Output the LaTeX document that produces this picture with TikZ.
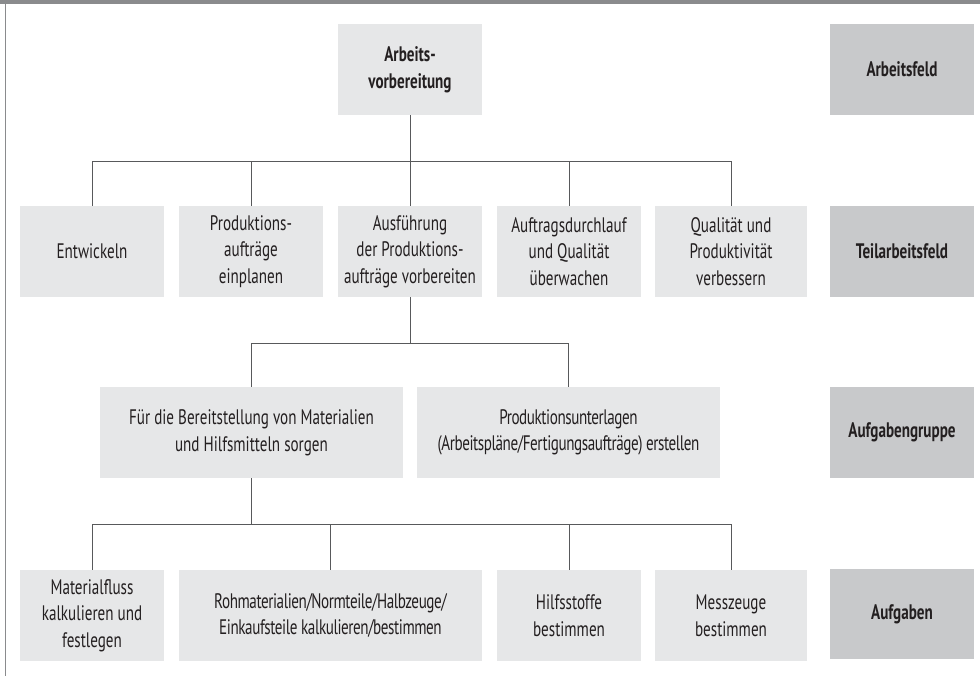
\documentclass[tikz,border=0pt]{standalone}
\usepackage{fontspec}
\setmainfont{PT Sans}[FakeStretch=0.72]
\usepackage{xcolor}
\usetikzlibrary{positioning}

\definecolor{boxlight}{HTML}{E6E7E8}
\definecolor{boxdark}{HTML}{C8C9CB}
\definecolor{linegray}{HTML}{58595B}
\definecolor{framegray}{HTML}{8A8B8D}
\definecolor{txt}{HTML}{231F20}

\begin{document}
\begin{tikzpicture}[
        x=1pt, y=-1pt,
        box/.style={fill=boxlight, rectangle, align=center, inner sep=0pt, minimum width=144pt, minimum height=91pt, text=txt, font=\fontsize{21}{26.7}\selectfont},
        widebox/.style={box, minimum width=303pt},
        tight/.style={font=\fontsize{21}{26.7}\selectfont\addfontfeatures{LetterSpace=-2}},
        levelbox/.style={box, fill=boxdark, font=\fontsize{21}{26.7}\selectfont\bfseries},
        conn/.style={draw=linegray, line width=1pt}
    ]

    \useasboundingbox (0,0) rectangle (980,676);

    % Frame
    \fill[framegray] (0,0) rectangle (980,4);
    \draw[framegray, line width=1.5pt] (5.5,4) -- (5.5,676);

    % Arbeitsfeld
    \node[box, font=\fontsize{21}{26.7}\selectfont\bfseries] (avor) at (410,69.5) {Arbeits-\\vorbereitung};
    \node[levelbox] (lvlfeld) at (902,69.5) {Arbeitsfeld};

    % Teilarbeitsfelder
    \node[box] (entw) at (92,251.5) {Entwickeln};
    \node[box] (einpl) at (251,251.5) {Produktions-\\aufträge\\einplanen};
    \node[box] (ausf) at (410,251.5) {Ausführung\\der Produktions-\\aufträge vorbereiten};
    \node[box] (ueberw) at (569,251.5) {Auftragsdurchlauf\\und Qualität\\überwachen};
    \node[box, minimum width=152pt] (verb) at (731,251.5) {Qualität und\\Produktivität\\verbessern};
    \node[levelbox] (lvlteil) at (902,251.5) {Teilarbeitsfeld};

    % Aufgabengruppen
    \node[widebox] (bereit) at (251.5,432.5) {Für die Bereitstellung von Materialien\\und Hilfsmitteln sorgen};
    \node[widebox, tight] (unterl) at (568.5,432.5) {Produktionsunterlagen\\(Arbeitspläne/Fertigungsaufträge) erstellen};
    \node[levelbox] (lvlgrp) at (902,432.5) {Aufgabengruppe};

    % Aufgaben
    \node[box] (matfl) at (92,615.5) {Materialfluss\\kalkulieren und\\festlegen};
    \node[widebox, tight] (rohmat) at (330.5,615.5) {Rohmaterialien/Normteile/Halbzeuge/\\Einkaufsteile kalkulieren/bestimmen};
    \node[box] (hilfs) at (569,615.5) {Hilfsstoffe\\bestimmen};
    \node[box, minimum width=152pt] (messz) at (731,615.5) {Messzeuge\\bestimmen};
    \node[levelbox, minimum height=90pt] (lvlaufg) at (902,614) {Aufgaben};

    % Connectors
    \draw[conn] (avor.south) -- (ausf.north);
    \foreach \n in {entw, einpl, ueberw, verb}
        \draw[conn] (avor.south) -- ++(0,46) -| (\n.north);

    \foreach \n in {bereit, unterl}
        \draw[conn] (ausf.south) -- ++(0,46) -| (\n.north);

    \foreach \n in {matfl, rohmat, hilfs, messz}
        \draw[conn] (bereit.south) -- ++(0,46) -| (\n.north);

\end{tikzpicture}
\end{document}
